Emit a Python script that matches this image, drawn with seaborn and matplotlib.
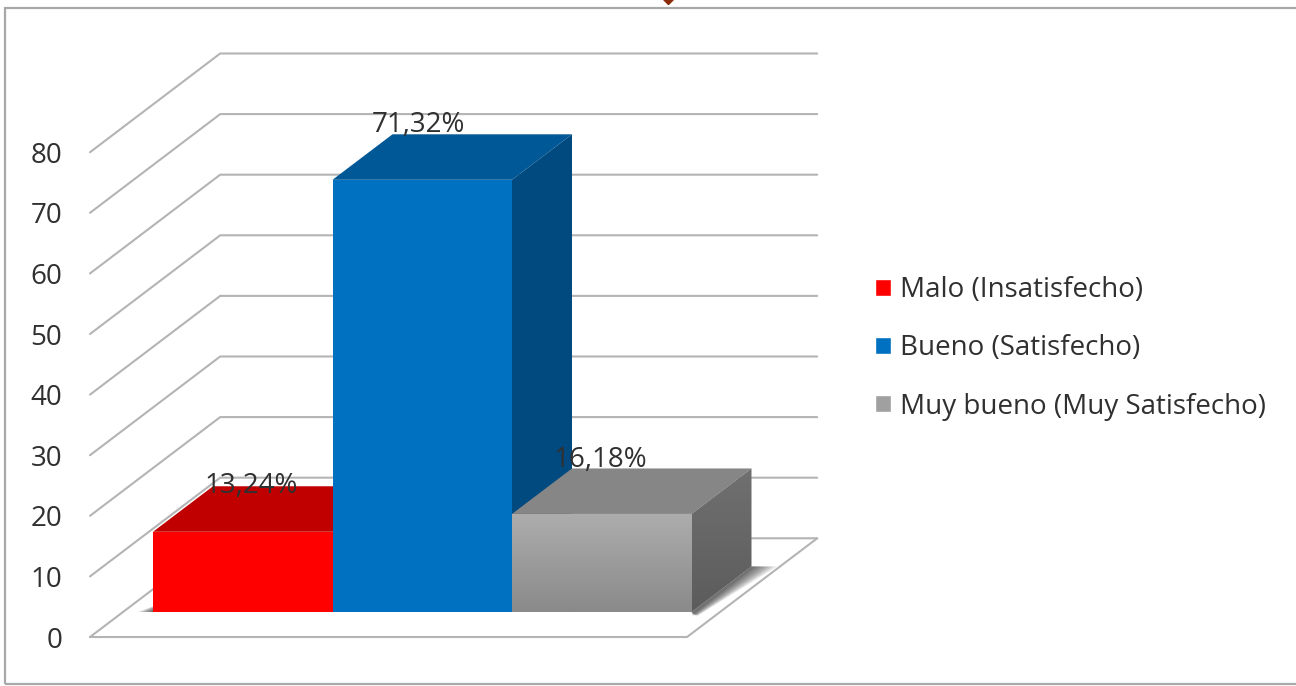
# -*- coding: utf-8 -*-
import numpy as np
import pandas as pd
import matplotlib
matplotlib.use('Agg')
import matplotlib.pyplot as plt
import seaborn as sns
from matplotlib.colors import LinearSegmentedColormap
from matplotlib.patches import Polygon, Rectangle

# Chart values
categories = ['Malo (Insatisfecho)', 'Bueno (Satisfecho)', 'Muy bueno (Muy Satisfecho)']
percentages = [13.24, 71.32, 16.18]
y_ticks = [0, 10, 20, 30, 40, 50, 60, 70, 80]

# Colours per bar: front, top, side
front_colors = ['#FF0000', '#0070C0', '#A0A0A0']
top_colors = ['#C00000', '#005896', '#868686']
side_colors = ['#A00000', '#004A80', '#646464']
grid_color = '#B4B4B4'
text_color = '#303030'

# Layout in pixels of the 1296x686 picture
WIDTH, HEIGHT = 1296, 686
BAR_PX = 179.5      # width of a category
UNIT_PX = 6.06      # height of one percent
BAR_LEFT_PX = 153   # left edge of first bar
BASE_PX = 612       # bottom edge of bars
DEPTH_X = 60 / BAR_PX      # bar depth in data units
DEPTH_Y = 45.5 / UNIT_PX
FLOOR_FRONT = -0.55
FLOOR_BACK = 1.62
FONT_SIZE = 20

sns.set_theme(style='white')
plt.rcParams['font.family'] = ['Open Sans', 'DejaVu Sans']

df = pd.DataFrame({'categoria': categories, 'valor': percentages})

fig = plt.figure(figsize=(WIDTH / 100, HEIGHT / 100), dpi=100)
ax = fig.add_axes([0, 0, 1, 1])

sns.barplot(data=df, x='categoria', y='valor', hue='categoria', palette=front_colors,
            width=1, saturation=1, dodge=False, legend=True, ax=ax)

# Data limits so that one category / one percent have the right pixel size
x0 = -0.5 - BAR_LEFT_PX / BAR_PX
y0 = -(HEIGHT - BASE_PX) / UNIT_PX
xlim = (x0, x0 + WIDTH / BAR_PX)
ylim = (y0, y0 + HEIGHT / UNIT_PX)


def project(x, y, depth):
    # oblique projection: depth 0 is the bar front, depth 1 the bar back
    return x + depth * DEPTH_X, y + depth * DEPTH_Y


def px_to_data(px, py):
    return x0 + px / BAR_PX, y0 + (HEIGHT - py) / UNIT_PX


def gradient_face(points, top, bottom, zorder):
    face = Polygon(points, closed=True, fc='none', ec='none', zorder=zorder)
    ax.add_patch(face)
    xs = [p[0] for p in points]
    ys = [p[1] for p in points]
    cmap = LinearSegmentedColormap.from_list('face', [top, bottom])
    img = ax.imshow(np.linspace(0, 1, 64).reshape(-1, 1), cmap=cmap, aspect='auto',
                    extent=[min(xs), max(xs), min(ys), max(ys)], zorder=zorder)
    img.set_clip_path(face)


# Floor and walls: left and right limits of the plot area at the front
floor_l, _ = px_to_data(90, 0)
floor_r, _ = px_to_data(687, 0)
depth_span = (FLOOR_BACK - FLOOR_FRONT) * DEPTH_X
label_x, _ = px_to_data(62, 0)

for tick in y_ticks:
    # diagonal on the side wall, then straight along the back wall
    front_y = tick + FLOOR_FRONT * DEPTH_Y
    back_y = tick + FLOOR_BACK * DEPTH_Y
    ax.plot([floor_l, floor_l + depth_span, floor_r + depth_span], [front_y, back_y, back_y],
            color=grid_color, lw=1.5, zorder=1, solid_joinstyle='miter')
    ax.text(label_x, front_y - 3.5 / UNIT_PX, str(tick), ha='right', va='center',
            fontsize=FONT_SIZE, color=text_color)

# Front and right edge of the floor
floor_front_y = FLOOR_FRONT * DEPTH_Y
floor_back_y = FLOOR_BACK * DEPTH_Y
ax.plot([floor_l, floor_r, floor_r + depth_span], [floor_front_y, floor_front_y, floor_back_y],
        color=grid_color, lw=1.5, zorder=1)

# Soft shadows on the floor
right_edge = len(percentages) - 0.5
for spread in [0.14, 0.12, 0.10, 0.08, 0.06, 0.04, 0.02]:
    ax.add_patch(Polygon([project(right_edge, 0, 0), project(right_edge + spread * 0.25, -0.6, 0),
                          project(right_edge + spread, 0, 1), project(right_edge, 0, 1)],
                         closed=True, fc='#202020', ec='none', alpha=0.13, zorder=2))
    ax.add_patch(Polygon([project(-0.5 - spread * 0.6, 0, 0), project(-0.5, 0, 0),
                          project(-0.5, 0, 0.25)],
                         closed=True, fc='#202020', ec='none', alpha=0.13, zorder=2))

# 3D faces for every bar, drawn left to right
for i, (bar, value) in enumerate(zip(ax.containers, percentages)):
    rect = bar[0]
    left = rect.get_x()
    right = left + rect.get_width()
    rect.set_zorder(3 + i + 0.5)
    rect.set_edgecolor('none')
    top_face = [project(left, value, 0), project(right, value, 0),
                project(right, value, 1), project(left, value, 1)]
    side_face = [project(right, 0, 0), project(right, 0, 1),
                 project(right, value, 1), project(right, value, 0)]
    ax.add_patch(Polygon(top_face, closed=True, fc=top_colors[i], ec='none', zorder=3 + i))
    if categories[i].startswith('Muy'):
        rect.set_facecolor('none')
        gradient_face([(left, 0), (right, 0), (right, value), (left, value)],
                      '#ADADAD', '#8A8A8A', 3 + i + 0.5)
        gradient_face(side_face, '#707070', '#5C5C5C', 3 + i)
    else:
        ax.add_patch(Polygon(side_face, closed=True, fc=side_colors[i], ec='none', zorder=3 + i))

# Value labels, with the decimal comma of the original
label_nudge = [(8, 46), (-4, 55), (-1, 54)]
for i, value in enumerate(percentages):
    nx, ny = label_nudge[i]
    ax.text(i + nx / BAR_PX, value + ny / UNIT_PX, f'{value:.2f}'.replace('.', ',') + '%',
            ha='center', va='center', fontsize=FONT_SIZE, color=text_color, zorder=10)

# Legend
leg_x, leg_y = px_to_data(875, 276)
sns.move_legend(ax, loc='upper left', bbox_to_anchor=(leg_x, leg_y),
                bbox_transform=ax.transData, frameon=False, title=None, fontsize=FONT_SIZE,
                handlelength=0.58, handleheight=0.58, handletextpad=0.33,
                labelspacing=1.09, borderpad=0, borderaxespad=0, labelcolor=text_color)

# Outer frame and the cut-off marker at the top
fig.add_artist(Rectangle((5 / WIDTH, 1 - 684 / HEIGHT), 1300 / WIDTH, 676 / HEIGHT,
                         transform=fig.transFigure, fc='none', ec='#A8A8A8', lw=1.6))
mx, my = px_to_data(668, -3)
ax.plot([mx], [my], marker='D', ms=7.5, color='#8A2A08', clip_on=False, zorder=10)

ax.set_xlim(*xlim)
ax.set_ylim(*ylim)
ax.axis('off')

fig.savefig('out.png', dpi=100)
